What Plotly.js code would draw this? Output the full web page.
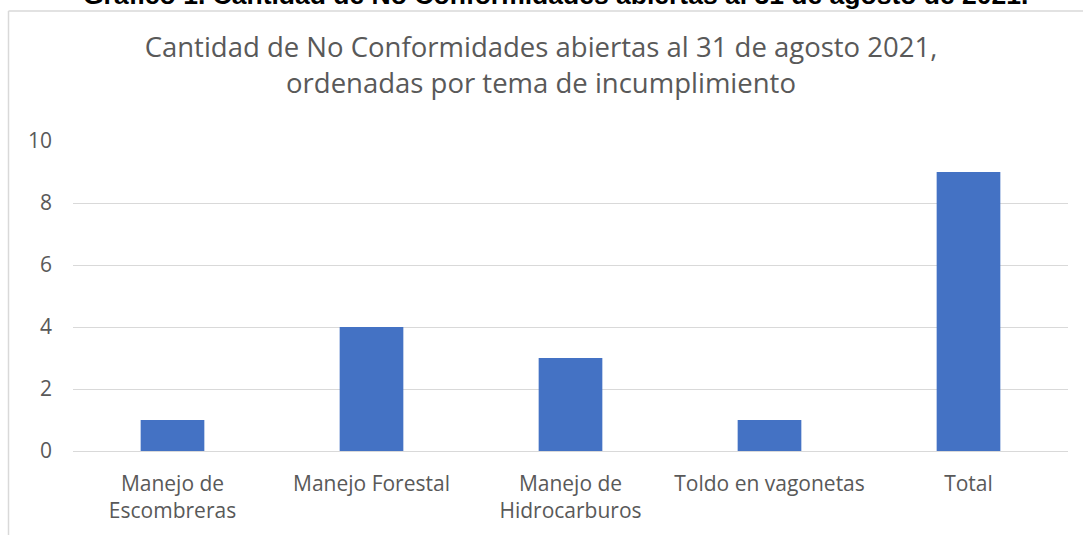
<!DOCTYPE html>
<html>
<head>
<meta charset="utf-8">
<script src="https://cdn.plot.ly/plotly-3.0.1.min.js"></script>
<style>html,body{margin:0;padding:0;background:#fff;}#chart{width:1083px;height:535px;}</style>
</head>
<body>
<div id="chart"></div>
<script>
var categories = ["Manejo de<br>Escombreras", "Manejo Forestal", "Manejo de<br>Hidrocarburos", "Toldo en vagonetas", "Total"];
var values = [1, 4, 3, 1, 9];
var yTicks = [0, 2, 4, 6, 8, 10];
var chartTitle = "Cantidad de No Conformidades abiertas al 31 de agosto 2021,<br>ordenadas por tema de incumplimiento";
var heading = "Gráfico 1. Cantidad de No Conformidades abiertas al 31 de agosto de 2021.";

var W = 1083, H = 535;
var L = 73, R = 15, T = 141, B = 84;
var pw = W - L - R, ph = H - T - B;
function px(x) { return (x - L) / pw; }
function py(y) { return (H - B - y) / ph; }

var trace = {
  type: 'bar',
  x: categories,
  y: values,
  marker: {color: '#4472C4'},
  hoverinfo: 'x+y'
};

var layout = {
  width: W, height: H,
  margin: {l: L, r: R, t: T, b: B, pad: 0},
  paper_bgcolor: '#ffffff',
  plot_bgcolor: '#ffffff',
  showlegend: false,
  bargap: 0.68,
  font: {family: 'Open Sans, sans-serif', color: '#595959'},
  title: {
    text: chartTitle,
    font: {family: 'Open Sans, sans-serif', size: 27.5, color: '#595959'},
    x: 541 / W, xanchor: 'center', xref: 'container',
    y: 1 - 57 / H, yanchor: 'middle', yref: 'container'
  },
  xaxis: {
    type: 'category',
    showgrid: false,
    showline: false,
    zeroline: false,
    ticks: '',
    tickfont: {size: 21, color: '#595959'},
    ticklabelstandoff: 18
  },
  yaxis: {
    range: [0, 10],
    tickvals: yTicks,
    showgrid: true,
    gridcolor: '#D9D9D9',
    gridwidth: 1,
    zeroline: true,
    zerolinecolor: '#D9D9D9',
    zerolinewidth: 1,
    showline: false,
    ticks: '',
    tickfont: {size: 21, color: '#595959'},
    ticklabelstandoff: 20
  },
  shapes: [
    {type: 'line', xref: 'paper', yref: 'paper', x0: px(8.5), x1: px(8.5), y0: py(11), y1: py(545), line: {color: '#D9D9D9', width: 1.5}},
    {type: 'line', xref: 'paper', yref: 'paper', x0: px(8.5), x1: px(1095), y0: py(11), y1: py(11), line: {color: '#D9D9D9', width: 1.5}}
  ],
  annotations: [
    {
      text: '<b>' + heading + '</b>',
      xref: 'paper', yref: 'paper',
      x: px(555), y: py(12),
      xanchor: 'center', yanchor: 'bottom',
      showarrow: false,
      font: {family: 'Liberation Sans, Arial, sans-serif', size: 26.5, color: '#000000'}
    }
  ]
};

Plotly.newPlot('chart', [trace], layout, {displayModeBar: false, staticPlot: true});
</script>
</body>
</html>
